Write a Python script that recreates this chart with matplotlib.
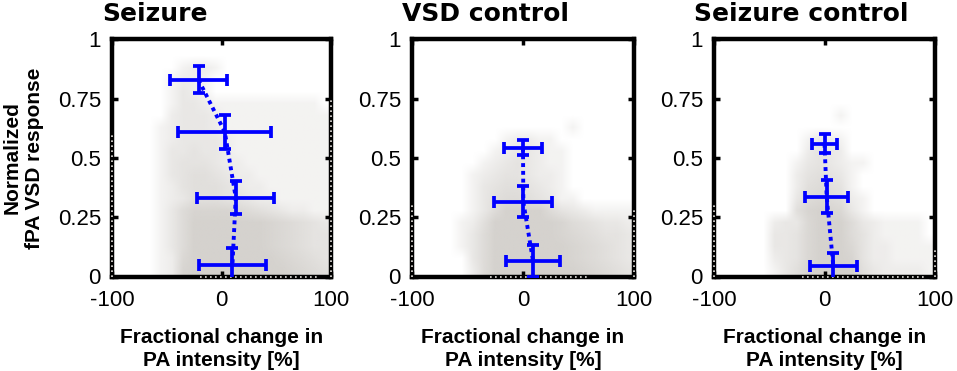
import numpy as np
import matplotlib.pyplot as plt
from matplotlib.colors import to_rgb

plt.rcParams['font.family'] = ['Liberation Sans', 'DejaVu Sans']
plt.rcParams['axes.unicode_minus'] = False

titles = ["Seizure", "VSD control", "Seizure control"]

# binned means +- spread (x: fractional change [%], y: normalized response)
seizure_x = [-21, 3, 13, 10]
seizure_y = [0.83, 0.61, 0.333, 0.05]
seizure_xerr = [26, 42.5, 35, 31]
seizure_yerr = [0.057, 0.072, 0.07, 0.07]

vsd_x = [0, 0.3, 9]
vsd_y = [0.544, 0.315, 0.067]
vsd_xerr = [17.5, 26, 24]
vsd_yerr = [0.03, 0.065, 0.067]

ctrl_x = [0, 2, 8]
ctrl_y = [0.56, 0.336, 0.043]
ctrl_xerr = [11.6, 19.5, 21]
ctrl_yerr = [0.04, 0.07, 0.056]

# density of the grey pixel cloud (0-9)
# rows: y 1.00 -> 0.00 in 0.05 steps, cols: x -100 -> 100 in 10 % steps
seizure_cloud = [
    "00000 00000 00000 00000",
    "00000 00000 00000 00000",
    "00000 01221 00000 00000",
    "00000 12210 00000 00000",
    "00000 13210 00000 00000",
    "00000 13321 11111 11110",
    "00000 23332 11111 11111",
    "00001 23332 11111 11111",
    "00001 23333 21111 11111",
    "00001 33433 21111 11111",
    "00001 34443 22111 11111",
    "00001 34554 32211 11111",
    "00001 24555 43221 11111",
    "00001 23555 44322 11111",
    "00001 36888 87654 32211",
    "00001 36999 99998 76543",
    "00001 36999 99998 76544",
    "00001 36999 99998 76544",
    "00001 27999 99999 87654",
    "00001 28999 99999 98765",
]

vsd_cloud = [
    "00000 00000 00000 00000",
    "00000 00000 00000 00000",
    "00000 00000 00000 00000",
    "00000 00000 00000 00000",
    "00000 00000 00000 00000",
    "00000 00000 00000 00000",
    "00000 00000 00000 00000",
    "00000 00000 00001 00000",
    "00000 00012 21100 00000",
    "00000 00123 32110 00000",
    "00000 01234 32110 00000",
    "00000 12344 32210 00000",
    "00000 13455 43210 00000",
    "00000 13566 54311 00000",
    "00000 13699 99643 21111",
    "00001 25999 99986 54332",
    "00001 36999 99987 65443",
    "00001 36999 99998 76543",
    "00000 36999 99998 76543",
    "00000 26999 99999 87654",
]

ctrl_cloud = [
    "00000 00000 00000 00000",
    "00000 00000 00000 00000",
    "00000 00000 00000 00000",
    "00000 00000 00000 00000",
    "00000 00000 00000 00000",
    "00000 00000 00000 00000",
    "00000 00000 01000 00000",
    "00000 00000 00000 00000",
    "00000 00013 21000 00000",
    "00000 00024 32000 00000",
    "00000 00134 32110 00000",
    "00000 00245 43100 00000",
    "00000 00256 54100 00000",
    "00000 00367 65210 00000",
    "00000 00589 87310 00000",
    "00000 23379 99632 11110",
    "00000 33479 99642 11110",
    "00000 33479 99742 21111",
    "00000 23479 99842 21111",
    "00000 13589 99953 22221",
]

# saturated points piled up on the frame: (left y-max, right y-max, bottom x-range)
seizure_edge = (0.6, 0.75, (-20, 90))
vsd_edge = (0.3, 0.28, (-30, 60))
ctrl_edge = (0.3, 0.12, (-20, 90))

panels = [
    (seizure_x, seizure_y, seizure_xerr, seizure_yerr, seizure_cloud, seizure_edge),
    (vsd_x, vsd_y, vsd_xerr, vsd_yerr, vsd_cloud, vsd_edge),
    (ctrl_x, ctrl_y, ctrl_xerr, ctrl_yerr, ctrl_cloud, ctrl_edge),
]

W, H = 957, 371
lefts = [112, 412, 714]
widths = [219, 222, 221]
top, bottom = 39.5, 276.5
title_cx = [43, 73.5, 87]

grey = "#d5d2ce"
blue = "#0000ff"

fig = plt.figure(figsize=(W / 100, H / 100), dpi=100)

for i, (x, y, xe, ye, cloud, edge) in enumerate(panels):
    ax = fig.add_axes([lefts[i] / W, 1 - bottom / H, widths[i] / W, (bottom - top) / H])

    dens = np.array([[int(c) for c in r.replace(" ", "")] for r in cloud]) / 9.0
    rgba = np.zeros(dens.shape + (4,))
    rgba[..., :3] = to_rgb(grey)
    rgba[..., 3] = dens ** 0.6
    ax.imshow(rgba, extent=[-100, 100, 0, 1], aspect="auto",
              interpolation="bilinear", zorder=1)

    # light specks on the frame
    ek = dict(color="#e6e3df", lw=1.2, ls=(0, (1, 2)), clip_on=False, zorder=4)
    ax.plot([-100, -100], [0, edge[0]], **ek)
    ax.plot([100, 100], [0, edge[1]], **ek)
    ax.plot(list(edge[2]), [0, 0], **ek)

    ax.errorbar(x, y, xerr=xe, yerr=ye, fmt="none", ecolor=blue,
                elinewidth=2.7, capsize=4, capthick=2.7, zorder=5)
    ax.plot(x, y, color=blue, ls=(0, (1, 1)), lw=2.8, zorder=5)

    ax.set_xlim(-100, 100)
    ax.set_ylim(0, 1)
    ax.set_xticks([-100, 0, 100])
    ax.set_xticklabels(["-100", "0", "100"])
    ax.set_yticks([0, 0.25, 0.5, 0.75, 1])
    ax.set_yticklabels(["0", "0.25", "0.5", "0.75", "1"])
    ax.tick_params(direction="in", length=4, width=2.5, top=True, right=True,
                   labelsize=16)
    ax.tick_params(axis="x", pad=10)
    ax.tick_params(axis="y", pad=8)
    for s in ax.spines.values():
        s.set_linewidth(3.2)

    ax.set_xlabel("Fractional change in\nPA intensity [%]", fontsize=15,
                  fontweight="bold", labelpad=12, linespacing=1.25)
    if i == 0:
        ax.set_ylabel("Normalized\nfPA VSD response", fontsize=15,
                      fontweight="bold", labelpad=10, linespacing=1.2)

    ax.text(title_cx[i] / widths[i], (bottom - 21) / (bottom - top), titles[i],
            transform=ax.transAxes, ha="center", va="baseline",
            fontsize=18, fontweight="bold", family="DejaVu Sans")

fig.savefig("out.png", dpi=100)
